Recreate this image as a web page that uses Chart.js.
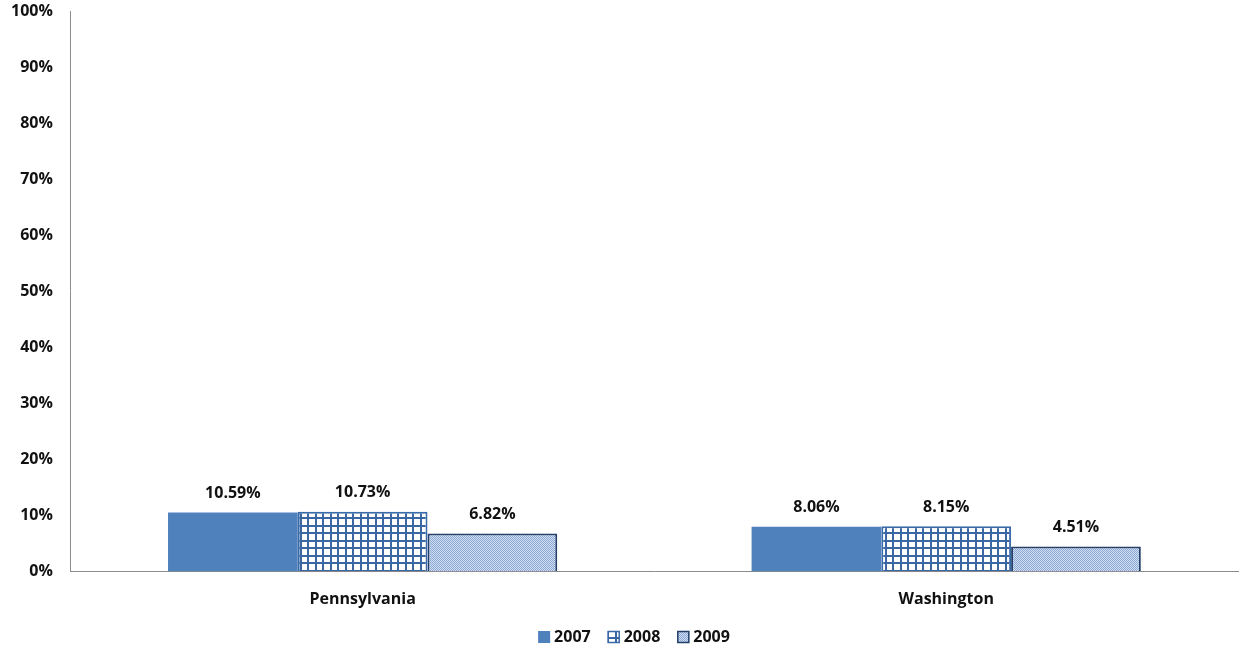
<!DOCTYPE html>
<html>
<head>
<meta charset="utf-8">
<script src="https://cdn.jsdelivr.net/npm/chart.js@4"></script>
<style>
  html, body { margin: 0; padding: 0; background: #fff; }
  #wrap { width: 1241px; height: 651px; }
</style>
</head>
<body>
<div id="wrap"><canvas id="chart"></canvas></div>
<script>
var states = ['Pennsylvania', 'Washington'];
var years = ['2007', '2008', '2009'];
var values2007 = [0.1059, 0.0806];
var values2008 = [0.1073, 0.0815];
var values2009 = [0.0682, 0.0451];

function gridPattern() {
    var c = document.createElement('canvas');
    c.width = 15; c.height = 15;
    var g = c.getContext('2d');
    g.fillStyle = '#ffffff';
    g.fillRect(0, 0, 15, 15);
    g.fillStyle = '#3A66A3';
    g.fillRect(0, 0, 2, 15);
    g.fillRect(7, 0, 2, 15);
    g.fillRect(0, 0, 15, 2);
    g.fillRect(0, 7, 15, 2);
    return g.createPattern(c, 'repeat');
}

function checkPattern() {
    var c = document.createElement('canvas');
    c.width = 2; c.height = 2;
    var g = c.getContext('2d');
    g.fillStyle = '#D2DEF0';
    g.fillRect(0, 0, 2, 2);
    g.fillStyle = '#8AA9D6';
    g.fillRect(0, 0, 1, 1);
    g.fillRect(1, 1, 1, 1);
    return g.createPattern(c, 'repeat');
}

// draw value labels above each bar
var valueLabels = {
    id: 'valueLabels',
    afterDatasetsDraw(chart) {
        var ctx = chart.ctx;
        ctx.save();
        ctx.font = 'bold 16px "Open Sans", sans-serif';
        ctx.fillStyle = '#111';
        ctx.textAlign = 'center';
        ctx.textBaseline = 'bottom';
        chart.data.datasets.forEach((ds, i) => {
            chart.getDatasetMeta(i).data.forEach((bar, j) => {
                ctx.fillText((ds.data[j] * 100).toFixed(2) + '%', bar.x, bar.y - 11);
            });
        });
        ctx.restore();
    }
};

// legend drawn by hand so the item spacing matches
var bottomLegend = {
    id: 'bottomLegend',
    afterDraw(chart) {
        var ctx = chart.ctx;
        ctx.save();
        ctx.font = 'bold 16px "Open Sans", sans-serif';
        ctx.textBaseline = 'middle';
        ctx.textAlign = 'left';
        var box = 12, gap = 4, spacing = 17;
        var items = chart.data.datasets;
        var total = 0;
        items.forEach((ds, i) => {
            total += box + gap + ctx.measureText(ds.label).width;
            if (i < items.length - 1) total += spacing;
        });
        var x = 634 - total / 2;
        var y = 637;
        items.forEach(ds => {
            ctx.fillStyle = ds.backgroundColor;
            ctx.fillRect(x, y - box / 2, box, box);
            if (ds.borderWidth) {
                ctx.strokeStyle = ds.borderColor;
                ctx.lineWidth = 1.5;
                ctx.strokeRect(x + 0.5, y - box / 2 + 0.5, box - 1, box - 1);
            }
            x += box + gap;
            ctx.fillStyle = '#111';
            ctx.fillText(ds.label, x, y);
            x += ctx.measureText(ds.label).width + spacing;
        });
        ctx.restore();
    }
};

Chart.defaults.font.family = '"Open Sans", sans-serif';
Chart.defaults.font.weight = 'bold';
Chart.defaults.font.size = 16;
Chart.defaults.color = '#111';

new Chart(document.getElementById('chart').getContext('2d'), {
    type: 'bar',
    data: {
        labels: states,
        datasets: [
            { label: years[0], data: values2007, backgroundColor: '#4F81BD', borderColor: '#4F81BD', borderWidth: 0 },
            { label: years[1], data: values2008, backgroundColor: gridPattern(), borderColor: '#3A6AA8', borderWidth: 2 },
            { label: years[2], data: values2009, backgroundColor: checkPattern(), borderColor: '#24406A', borderWidth: 2 }
        ]
    },
    options: {
        responsive: true,
        maintainAspectRatio: false,
        animation: false,
        layout: { padding: { top: 2, right: 3, left: 9, bottom: 24 } },
        datasets: { bar: { categoryPercentage: 0.667, barPercentage: 1.0 } },
        plugins: {
            legend: { display: false },
            tooltip: { enabled: false }
        },
        scales: {
            x: {
                grid: { display: false, drawTicks: false },
                border: { color: '#8C8C8C', width: 1 },
                ticks: { padding: 18 }
            },
            y: {
                min: 0, max: 1,
                grid: { color: 'rgba(0,0,0,0)', drawTicks: true, tickLength: 16 },
                border: { color: '#8C8C8C', width: 1 },
                ticks: {
                    stepSize: 0.1,
                    padding: 2,
                    callback: v => Math.round(v * 100) + '%'
                }
            }
        }
    },
    plugins: [valueLabels, bottomLegend]
});
</script>
</body>
</html>
